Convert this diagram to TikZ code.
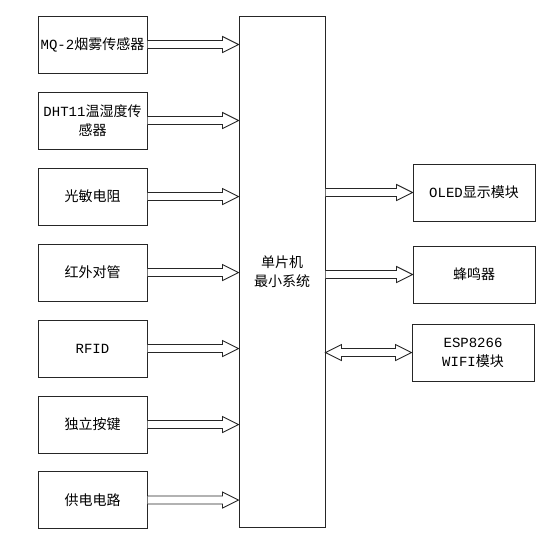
\documentclass[tikz,border=0pt]{standalone}
\usepackage{fontspec}
\setmainfont{Noto Sans CJK SC}
\newfontfamily\lat{Liberation Mono}
\usetikzlibrary{calc}
\tikzset{
  box/.style={draw=black!85, line width=1pt, align=center, inner sep=0pt,
    font=\fontsize{14}{19}\selectfont, text=black},
  lbox/.style={box, minimum width=109pt, minimum height=57pt},
  rbox/.style={box, minimum width=122pt, minimum height=57pt},
  blk/.style={draw=black!85, line width=0.9pt, fill=white, line join=miter},
}
\begin{document}
\begin{tikzpicture}[x=1pt,y=-1pt]
\useasboundingbox (0,0) rectangle (543,536);
% centre
\node[box, minimum width=86pt, minimum height=511pt] (mcu) at (282,271.5) {单片机\\最小系统};
% left boxes
\node[lbox] (s1) at (92.5,44.5) {{\lat MQ-2}烟雾传感器};
\node[lbox] (s2) at (92.5,120.5) {{\lat DHT11}温湿度传\\感器};
\node[lbox] (s3) at (92.5,196.5) {光敏电阻};
\node[lbox] (s4) at (92.5,272.5) {红外对管};
\node[lbox] (s5) at (92.5,348.5) {{\lat RFID}};
\node[lbox] (s6) at (92.5,424.5) {独立按键};
\node[lbox] (s7) at (92.5,500) {供电电路};
% right boxes
\node[rbox] (o1) at (474,192.5) {{\lat OLED}显示模块};
\node[rbox] (o2) at (474,274.5) {蜂鸣器};
\node[rbox] (o3) at (473,352.5) {{\lat ESP8266}\\{\lat WIFI}模块};
% input arrows
\foreach \s in {s1,s2,s3,s4,s5,s6,s7}{
  \draw[blk] let \p1=(\s.east), \p2=(mcu.west |- \s.east) in
    (\x1,{\y1+4pt}) -- ({\x2-16pt},{\y1+4pt}) -- ({\x2-16pt},{\y1+8pt}) -- (\x2,\y1)
    -- ({\x2-16pt},{\y1-8pt}) -- ({\x2-16pt},{\y1-4pt}) -- (\x1,{\y1-4pt});
}
% output arrows
\foreach \o in {o1,o2}{
  \draw[blk] let \p1=(mcu.east |- \o.west), \p2=(\o.west) in
    (\x1,{\y2+4pt}) -- ({\x2-16pt},{\y2+4pt}) -- ({\x2-16pt},{\y2+8pt}) -- (\x2,\y2)
    -- ({\x2-16pt},{\y2-8pt}) -- ({\x2-16pt},{\y2-4pt}) -- (\x1,{\y2-4pt});
}
% double arrow
\draw[blk] let \p1=(mcu.east |- o3.west), \p2=(o3.west) in
  (\x1,\y2) -- ({\x1+16pt},{\y2+8pt}) -- ({\x1+16pt},{\y2+4pt}) -- ({\x2-16pt},{\y2+4pt})
  -- ({\x2-16pt},{\y2+8pt}) -- (\x2,\y2) -- ({\x2-16pt},{\y2-8pt}) -- ({\x2-16pt},{\y2-4pt})
  -- ({\x1+16pt},{\y2-4pt}) -- ({\x1+16pt},{\y2-8pt}) -- cycle;
\end{tikzpicture}
\end{document}
